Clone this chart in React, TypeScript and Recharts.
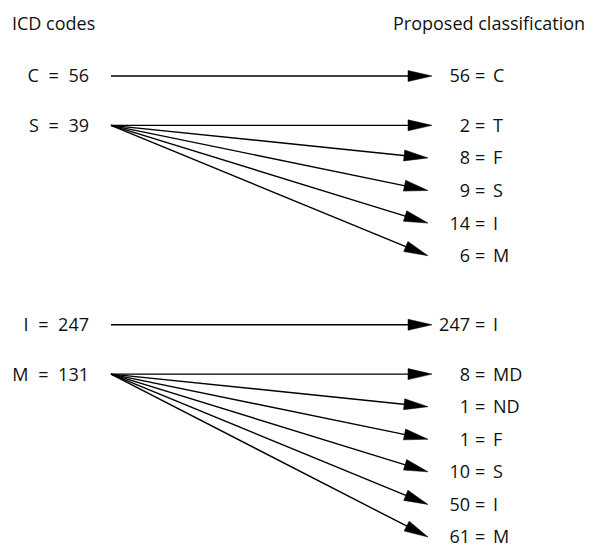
import React from 'react';
import { ComposedChart, XAxis, YAxis, Scatter, ReferenceLine } from 'recharts';

// ---- data ----
const headers = ['ICD codes', 'Proposed classification'];
const sourceCodes = ['C', 'S', 'I', 'M'];
const sourceCounts = [56, 39, 247, 131];
const sourceBlock = [0, 0, 1, 1];
const targetCodes = [['C'], ['T', 'F', 'S', 'I', 'M'], ['I'], ['MD', 'ND', 'F', 'S', 'I', 'M']];
const targetCounts = [[56], [2, 8, 9, 14, 6], [247], [8, 1, 1, 10, 50, 61]];

// ---- layout (in row units) ----
const FAN_STEP = 0.99;
const GAP_SAME = 1.5;
const GAP_BLOCK = 2.1;
const SLANT_TIP = 0.9875;

type Pt = { x: number; y: number; label?: string; num?: number; code?: string };
const sources: Pt[] = [];
const targets: Pt[] = [];
const arrows: { x1: number; y1: number; x2: number; y2: number }[] = [];
let prevEnd = 0;
sourceCodes.forEach((code, g) => {
  const row = g === 0 ? 0 : prevEnd + (sourceBlock[g] === sourceBlock[g - 1] ? GAP_SAME : GAP_BLOCK);
  sources.push({ x: 0, y: row, label: `${code} = ${sourceCounts[g]}` });
  targetCodes[g].forEach((t, i) => {
    const y = row + i * FAN_STEP;
    targets.push({ x: 1, y, num: targetCounts[g][i], code: t });
    arrows.push({ x1: 0, y1: row, x2: i === 0 ? 1 : SLANT_TIP, y2: y });
  });
  prevEnd = row + (targetCodes[g].length - 1) * FAN_STEP;
});
const maxRow = prevEnd;

const FONT = '"Open Sans", sans-serif';
const FS = 18;

function Arrow(props: any) {
  const { x1, y1, x2, y2 } = props;
  const dx = x2 - x1;
  const dy = y2 - y1;
  const len = Math.hypot(dx, dy) || 1;
  const ux = dx / len;
  const uy = dy / len;
  const L = 24;
  const W = 5.5;
  const bx = x2 - ux * L;
  const by = y2 - uy * L;
  const nx = -uy;
  const ny = ux;
  const pts = `${x2},${y2} ${bx + nx * W},${by + ny * W} ${bx - nx * W},${by - ny * W}`;
  return (
    <g>
      <line x1={x1} y1={y1} x2={bx + ux * 2} y2={by + uy * 2} stroke="#000" strokeWidth={1.4} />
      <polygon points={pts} fill="#000" stroke="#000" strokeWidth={0.5} strokeLinejoin="miter" />
    </g>
  );
}

function SourceLabel(props: any) {
  const { cx, cy } = props;
  const p = props.payload ?? props;
  return (
    <text x={cx - 22} y={cy} dy="0.357em" textAnchor="end" fontFamily={FONT} fontSize={FS}
      fill="#111" style={{ wordSpacing: '5px' }}>
      {p.label}
    </text>
  );
}

function TargetLabel(props: any) {
  const { cx, cy } = props;
  const p = props.payload ?? props;
  return (
    <g>
      <text x={cx + 38} y={cy} dy="0.357em" textAnchor="end" fontFamily={FONT} fontSize={FS} fill="#111">
        {p.num}
      </text>
      <text x={cx + 43} y={cy} dy="0.357em" textAnchor="start" fontFamily={FONT} fontSize={FS}
        fill="#111" style={{ wordSpacing: '3px' }}>
        {`= ${p.code}`}
      </text>
    </g>
  );
}

export default function App() {
  return (
    <div style={{ position: 'absolute', left: 0, top: 0, width: 593, height: 548, background: '#fff', fontFamily: FONT }}>
      <div style={{ position: 'absolute', left: 12, top: 14, fontSize: FS, lineHeight: `${FS}px`, color: '#111', whiteSpace: 'nowrap' }}>
        {headers[0]}
      </div>
      <div style={{ position: 'absolute', left: 393, top: 14, fontSize: FS, lineHeight: `${FS}px`, color: '#111', whiteSpace: 'nowrap' }}>
        {headers[1]}
      </div>
      <ComposedChart width={593} height={548} margin={{ top: 76, right: 161, bottom: 11, left: 111 }}>
        <XAxis type="number" dataKey="x" domain={[0, 1]} hide />
        <YAxis type="number" dataKey="y" domain={[0, maxRow]} reversed hide />
        {arrows.map((a, i) => (
          <ReferenceLine key={i} segment={[{ x: a.x1, y: a.y1 }, { x: a.x2, y: a.y2 }]}
            shape={(p: any) => <Arrow {...p} />} ifOverflow="visible" />
        ))}
        <Scatter data={sources} shape={(p: any) => <SourceLabel {...p} />} isAnimationActive={false} />
        <Scatter data={targets} shape={(p: any) => <TargetLabel {...p} />} isAnimationActive={false} />
      </ComposedChart>
    </div>
  );
}
